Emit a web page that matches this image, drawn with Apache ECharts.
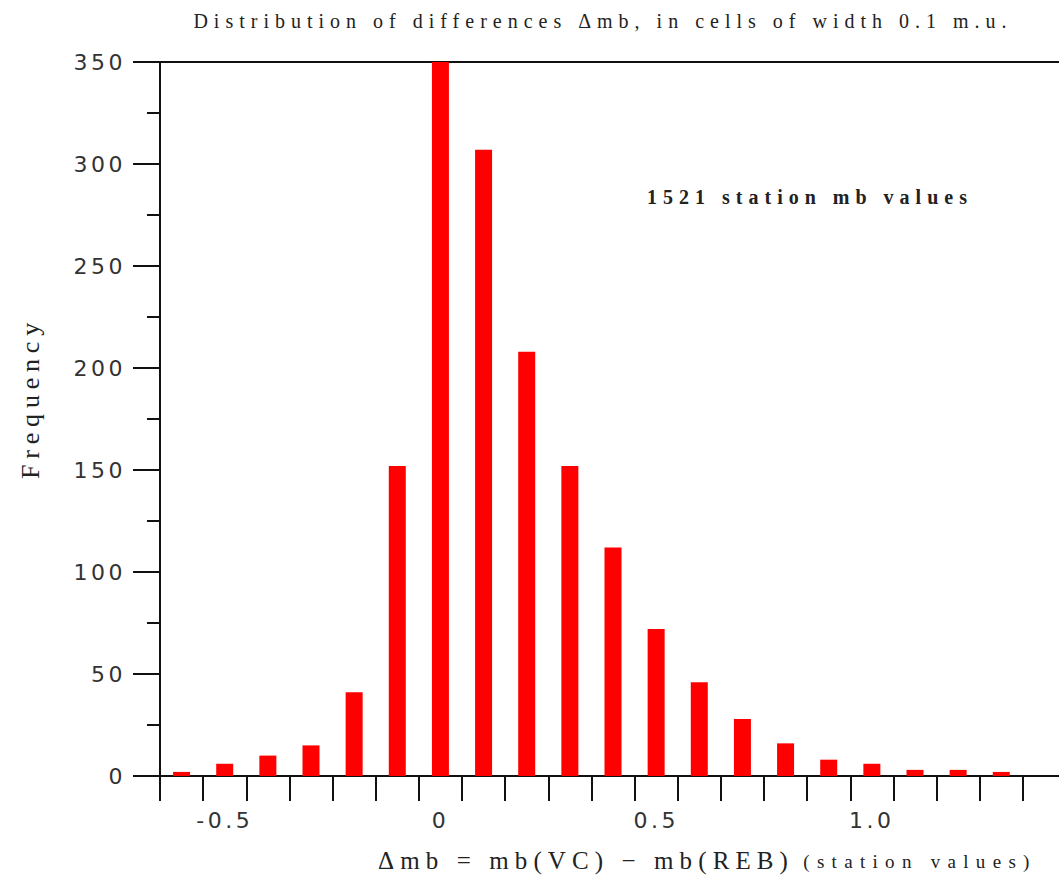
<!DOCTYPE html>
<html>
<head>
<meta charset="utf-8">
<script src="https://cdn.jsdelivr.net/npm/echarts@6/dist/echarts.min.js"></script>
<style>
  html, body { margin: 0; padding: 0; background: #ffffff; }
  #chart { width: 1059px; height: 884px; }
</style>
</head>
<body>
<div id="chart"></div>
<script>
// Bin centres (cells of width 0.1 m.u.); the last one is an empty cell so the axis runs to the edge
const categories = ['-0.6','-0.5','-0.4','-0.3','-0.2','-0.1','0','0.1','0.2','0.3','0.4','0.5','0.6','0.7','0.8','0.9','1.0','1.1','1.2','1.3','1.4'];
const frequency  = [2, 6, 10, 15, 41, 152, 350, 307, 208, 152, 112, 72, 46, 28, 16, 8, 6, 3, 3, 2, null];
const xTickLabels = ['-0.5', '0', '0.5', '1.0'];
const yMin = 0, yMax = 350, yStep = 50;

const titleText = 'Distribution of differences \u0394mb, in cells of width 0.1 m.u.';
const noteText = '1521 station mb values';
const xNameText = '\u0394mb = mb(VC) \u2212 mb(REB)';
const xNoteText = '(station values)';
const yNameText = 'Frequency';

const spacing = {};
spacing[titleText] = 6;
spacing[noteText] = 6;
spacing[xNameText] = 6.1;
spacing[xNoteText] = 7.3;
spacing[yNameText] = 5.8;

const chart = echarts.init(document.getElementById('chart'), null, { renderer: 'svg', width: 1059, height: 884 });

const option = {
  animation: false,
  backgroundColor: '#ffffff',
  grid: {
    left: 160, top: 62, width: 906, height: 714,
    show: true, borderColor: '#111', borderWidth: 2, backgroundColor: 'transparent',
    outerBoundsMode: 'none', containLabel: false
  },
  xAxis: {
    type: 'category',
    data: categories,
    boundaryGap: true,
    axisLine: { show: true, onZero: false, lineStyle: { color: '#111', width: 2 } },
    axisTick: { show: true, interval: 0, length: 25, lineStyle: { color: '#111', width: 2 } },
    axisLabel: {
      interval: function (i, v) { return xTickLabels.indexOf(v) >= 0; },
      margin: 33,
      fontFamily: 'DejaVu Sans',
      fontSize: 22,
      color: '#333'
    },
    splitLine: { show: false }
  },
  yAxis: {
    type: 'value',
    min: yMin, max: yMax, interval: yStep,
    axisLine: { show: true, lineStyle: { color: '#111', width: 2 } },
    axisTick: { show: true, length: 27, lineStyle: { color: '#111', width: 2 } },
    minorTick: { show: true, splitNumber: 2, length: 13, lineStyle: { color: '#111', width: 2 } },
    splitLine: { show: false },
    minorSplitLine: { show: false },
    axisLabel: {
      margin: 34,
      fontFamily: 'DejaVu Sans',
      fontSize: 22,
      color: '#333'
    }
  },
  series: [{
    type: 'bar',
    data: frequency,
    barWidth: 17,
    itemStyle: { color: '#ff0000' },
    silent: true
  }],
  graphic: [
    { type: 'text', x: 603, y: 21, silent: true,
      style: { text: titleText, font: '20px "Liberation Serif"', fill: '#222', align: 'center', verticalAlign: 'middle' } },
    { type: 'text', x: 810, y: 197, silent: true,
      style: { text: noteText, font: 'bold 20px "Liberation Serif"', fill: '#222', align: 'center', verticalAlign: 'middle' } },
    { type: 'text', x: 586, y: 860, silent: true,
      style: { text: xNameText, font: '25px "Liberation Serif"', fill: '#222', align: 'center', verticalAlign: 'middle' } },
    { type: 'text', x: 920, y: 861, silent: true,
      style: { text: xNoteText, font: '19px "Liberation Serif"', fill: '#222', align: 'center', verticalAlign: 'middle' } },
    { type: 'text', x: 30, y: 398, rotation: Math.PI / 2, silent: true,
      style: { text: yNameText, font: '26px "Liberation Serif"', fill: '#222', align: 'center', verticalAlign: 'middle' } }
  ]
};

chart.setOption(option);

function applySpacing() {
  const texts = document.querySelectorAll('#chart svg text');
  texts.forEach(function (t) {
    const s = spacing[t.textContent];
    t.setAttribute('letter-spacing', (s !== undefined ? s : 3.5) + 'px');
  });
}
chart.on('finished', applySpacing);
applySpacing();
setTimeout(applySpacing, 50);
setTimeout(applySpacing, 300);
</script>
</body>
</html>
